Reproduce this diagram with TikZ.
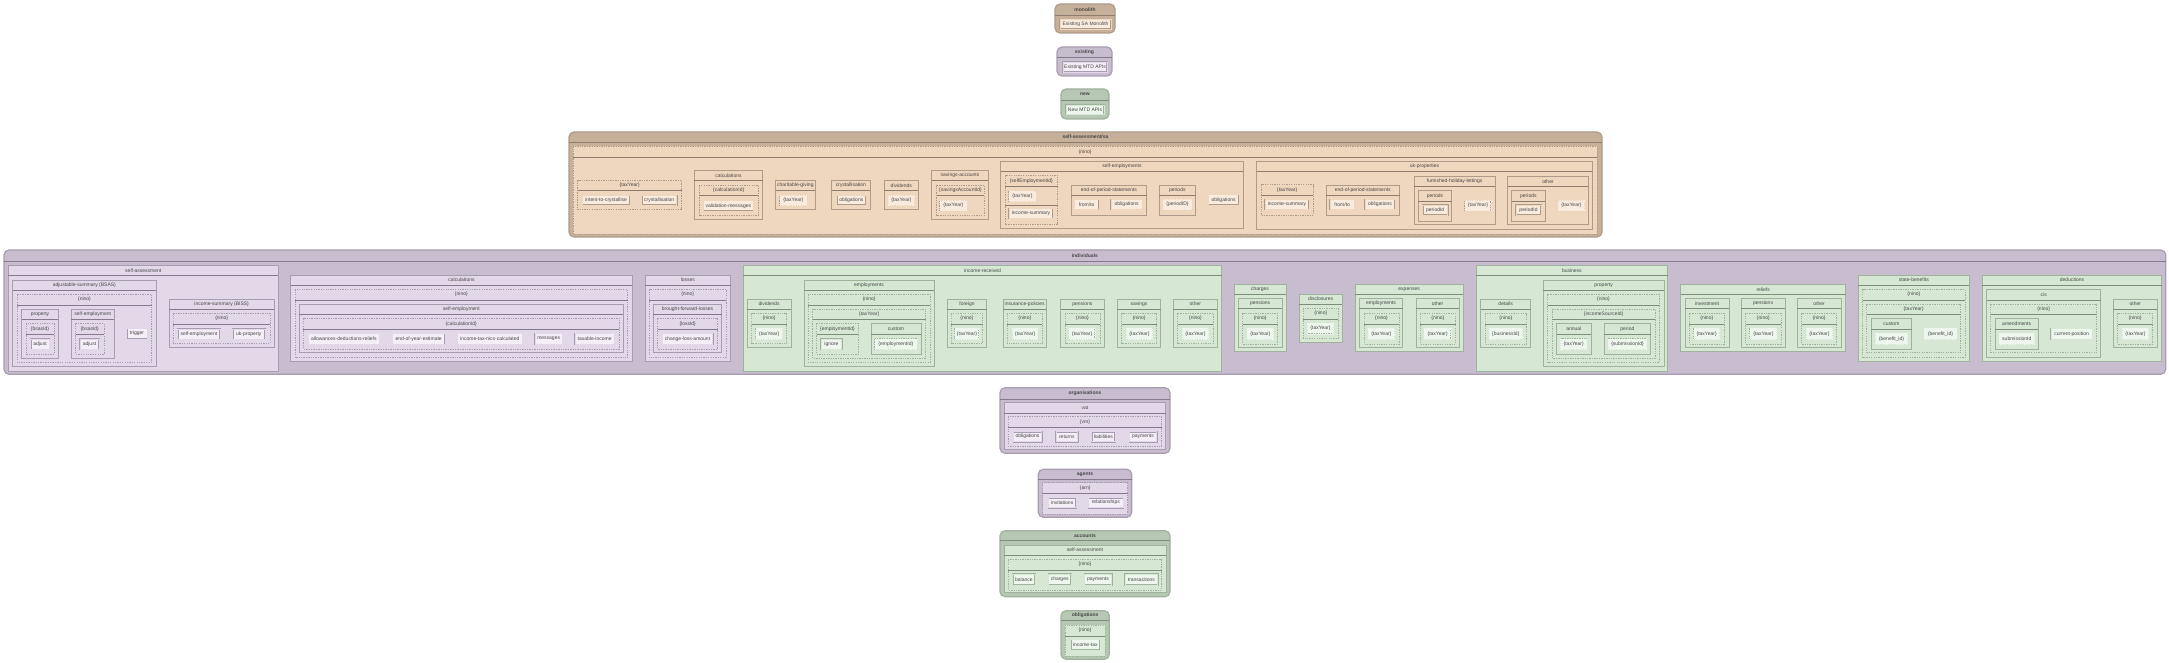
\documentclass[tikz,border=0pt]{standalone}
\usepackage{fontspec}
\setmainfont{Liberation Sans}
\definecolor{tanD}{HTML}{C6B09A}
\definecolor{tanL}{HTML}{EFD6BE}
\definecolor{tanB}{HTML}{AE9B89}
\definecolor{tanS}{HTML}{8E7D6E}
\definecolor{tanF}{HTML}{F9ECDF}
\definecolor{purD}{HTML}{C8BCCF}
\definecolor{purL}{HTML}{E3D8E8}
\definecolor{purB}{HTML}{A89CB0}
\definecolor{purS}{HTML}{86798E}
\definecolor{purF}{HTML}{F4EEF6}
\definecolor{grnD}{HTML}{B6C7B3}
\definecolor{grnL}{HTML}{D6E8D4}
\definecolor{grnB}{HTML}{9FB29C}
\definecolor{grnS}{HTML}{7D8F7B}
\definecolor{grnF}{HTML}{EEF7ED}
\definecolor{txtc}{HTML}{474747}
\newcount\nodecnt
\tikzset{
  txt/.style={inner sep=0pt, font=\fontsize{5}{6}\selectfont, text=txtc},
  ttl/.style={inner sep=0pt, font=\fontsize{5}{6}\selectfont\bfseries, text=txtc},
  dsh/.style={dash pattern=on 1.3pt off 1.1pt}
}
% outer rounded package: x1 y1 x2 y2 sep title colour
\newcommand{\OBox}[7]{%
  \draw[line width=1.2pt, draw=#7B, fill=#7D, rounded corners=5pt] (#1,#2) rectangle (#3,#4);
  \draw[line width=0.8pt, draw=#7S] (#1,#5) -- (#3,#5);
  \global\advance\nodecnt by 1
  \node[ttl] (n\the\nodecnt) at ({(#1+#3)/2},{(#2+#5)/2}) {#6};}
% solid inner package
\newcommand{\CBox}[7]{%
  \draw[line width=0.8pt, draw=#7B, fill=#7L] (#1,#2) rectangle (#3,#4);
  \draw[line width=0.7pt, draw=#7S] (#1,#5) -- (#3,#5);
  \global\advance\nodecnt by 1
  \node[txt] (n\the\nodecnt) at ({(#1+#3)/2},{(#2+#5)/2}) {#6};}
% dashed inner package
\newcommand{\DBox}[7]{%
  \draw[line width=0.7pt, draw=#7B, fill=#7L, dsh] (#1,#2) rectangle (#3,#4);
  \draw[line width=0.6pt, draw=#7S] (#1,#5) -- (#3,#5);
  \global\advance\nodecnt by 1
  \node[txt] (n\the\nodecnt) at ({(#1+#3)/2},{(#2+#5)/2}) {#6};}
% solid leaf
\newcommand{\LeafS}[6]{%
  \draw[line width=0.5pt, draw=#6B, double=#6L, double distance=0.6pt, fill=#6F] (#1,#2) rectangle (#3,#4);
  \global\advance\nodecnt by 1
  \node[txt] (n\the\nodecnt) at ({(#1+#3)/2},{(#2+#4)/2}) {#5};}
% dashed leaf
\newcommand{\LeafD}[6]{%
  \draw[line width=0.45pt, draw=#6B, double=#6F, double distance=0.6pt, fill=#6F, dsh] (#1,#2) rectangle (#3,#4);
  \global\advance\nodecnt by 1
  \node[txt] (n\the\nodecnt) at ({(#1+#3)/2},{(#2+#4)/2}) {#5};}

\begin{document}
\begin{tikzpicture}[x=1pt,y=-1pt]
\fill[white] (0,0) rectangle (2169,663);
\useasboundingbox (0,0) rectangle (2169,663);

% ---------- legend ----------
\OBox{1055}{4}{1115}{33}{15}{monolith}{tan}
\LeafS{1060}{19.7}{1111}{29.3}{Existing SA Monolith}{tan}
\OBox{1057}{47}{1112}{76}{57.3}{existing}{pur}
\LeafS{1063}{62}{1107}{72}{Existing MTD APIs}{pur}
\OBox{1061}{89}{1109}{119}{100}{new}{grn}
\LeafS{1066}{105}{1104}{114.5}{New MTD APIs}{grn}

% ---------- self-assessment/sa ----------
\OBox{569}{132}{1602}{237}{142}{self-assessment/sa}{tan}
\DBox{573.3}{146.3}{1597}{234}{157.3}{\{nino\}}{tan}
\DBox{577.7}{180.3}{681.7}{209.7}{190.3}{\{taxYear\}}{tan}
\LeafS{582.3}{195.7}{630}{205.3}{intent-to-crystallise}{tan}
\LeafS{641.7}{195.7}{676.7}{205.3}{crystallisation}{tan}
\CBox{694.3}{170.7}{762.7}{219.7}{180.3}{calculations}{tan}
\DBox{699}{185.3}{758.3}{215.3}{195.7}{\{calculationId\}}{tan}
\LeafS{703.3}{200.7}{753.3}{211.3}{validation-messages}{tan}
\CBox{775.7}{180.3}{815}{209.7}{190.3}{charitable-giving}{tan}
\LeafD{780}{195.7}{806.7}{205.3}{\{taxYear\}}{tan}
\CBox{831.7}{180.3}{870}{209.7}{190.3}{crystallisation}{tan}
\LeafS{836.7}{195.7}{866}{205.3}{obligations}{tan}
\CBox{884.3}{180.3}{918.3}{209.7}{190.3}{dividends}{tan}
\LeafD{888.3}{195.7}{914.3}{205.3}{\{taxYear\}}{tan}
\CBox{931.7}{170.7}{988.3}{219.7}{180.3}{savings-accounts}{tan}
\DBox{936.7}{185.3}{984.3}{215.3}{195.7}{\{savingsAccountId\}}{tan}
\LeafD{940}{200.7}{966.7}{210.7}{\{taxYear\}}{tan}
\CBox{1000.7}{161.3}{1243.3}{228}{171.3}{self-employments}{tan}
\DBox{1005}{175.3}{1057.7}{224.7}{186.3}{\{selfEmploymentId\}}{tan}
\LeafD{1009}{191.3}{1035.7}{201.3}{\{taxYear\}}{tan}
\draw[line width=0.6pt, draw=tanS] (1005,205.3) -- (1057.7,205.3);
\LeafS{1009}{208.7}{1053}{218.7}{income-summary}{tan}
\CBox{1071}{185.3}{1146.7}{215.3}{195.7}{end-of-period-statements}{tan}
\LeafS{1074.3}{199.7}{1099}{209.7}{from/to}{tan}
\LeafS{1111}{199.7}{1142.3}{209.7}{obligations}{tan}
\CBox{1159}{185.3}{1195.7}{215.3}{195.7}{periods}{tan}
\LeafD{1163.3}{199.7}{1191.7}{209.7}{\{periodID\}}{tan}
\LeafS{1208.3}{194.7}{1239}{205.3}{obligations}{tan}
\CBox{1256.7}{161.3}{1592.3}{229.7}{171.3}{uk-properties}{tan}
\DBox{1261}{184.7}{1313.3}{215.3}{195.7}{\{taxYear\}}{tan}
\LeafS{1265}{199.7}{1309}{209.7}{income-summary}{tan}
\CBox{1326}{185.3}{1399.5}{215.3}{195.7}{end-of-period-statements}{tan}
\LeafS{1330}{199.7}{1354.3}{209.7}{from/to}{tan}
\LeafS{1365}{199.7}{1395}{209.7}{obligations}{tan}
\CBox{1414.3}{176.3}{1495}{224.7}{186.3}{furnished-holiday-lettings}{tan}
\CBox{1418.3}{190.7}{1451.7}{221.3}{201.3}{periods}{tan}
\LeafS{1422.7}{205.3}{1447.7}{215.3}{periodId}{tan}
\LeafD{1465}{200.7}{1491}{210.7}{\{taxYear\}}{tan}
\CBox{1507.7}{176.3}{1588.3}{224.7}{186.3}{other}{tan}
\CBox{1511.7}{190.7}{1545}{221.3}{201.3}{periods}{tan}
\LeafS{1516}{205.3}{1541}{215.3}{periodId}{tan}
\LeafD{1558.3}{200.7}{1584.3}{210.7}{\{taxYear\}}{tan}

% ---------- individuals ----------
\OBox{4}{250}{2165.7}{374.3}{261}{individuals}{pur}
% self-assessment
\CBox{8.3}{265.7}{278.3}{371}{275.7}{self-assessment}{pur}
\CBox{12.7}{280}{156}{366.7}{290}{adjustable-summary (BSAS)}{pur}
\DBox{17.3}{294.3}{151.7}{362.3}{305}{\{nino\}}{pur}
\CBox{21.7}{309}{58.3}{358.3}{319.3}{property}{pur}
\DBox{26}{323.3}{54}{354.3}{334.3}{\{bsasId\}}{pur}
\LeafS{30.7}{339}{49.3}{349.3}{adjust}{pur}
\CBox{71}{309}{114.3}{358.3}{319.3}{self-employment}{pur}
\DBox{75.7}{323.3}{104}{354.3}{334.3}{\{bsasId\}}{pur}
\LeafS{80}{339}{99}{349.3}{adjust}{pur}
\LeafS{126.7}{328.3}{147.3}{339}{trigger}{pur}
\CBox{169.3}{299}{274}{347.7}{309.3}{income-summary (BISS)}{pur}
\DBox{173.3}{313.3}{270}{343.3}{324}{\{nino\}}{pur}
\LeafS{177.7}{329}{220}{339.3}{self-employment}{pur}
\LeafS{232.7}{329}{265}{339.3}{uk-property}{pur}
% calculations
\CBox{290.7}{275}{632.3}{361.7}{285}{calculations}{pur}
\DBox{295}{289.3}{627.7}{357.7}{300}{\{nino\}}{pur}
\CBox{299.3}{304.3}{623.3}{352.7}{314.3}{self-employment}{pur}
\DBox{303.3}{318.3}{619.3}{349}{329.3}{\{calculationId\}}{pur}
\LeafS{308.3}{333.3}{379.3}{344.3}{allowances-deductions-reliefs}{pur}
\LeafS{392.3}{333.3}{445}{344.3}{end-of-year-estimate}{pur}
\LeafS{457.3}{333.3}{522.3}{344.3}{income-tax-nics-calculated}{pur}
\LeafS{535}{333.3}{562.3}{344.3}{messages}{pur}
\LeafS{575}{333.3}{614.3}{344.3}{taxable-income}{pur}
% losses
\CBox{645}{275}{730.7}{361.7}{285}{losses}{pur}
\DBox{649.3}{289.3}{726}{357.7}{300}{\{nino\}}{pur}
\CBox{653.3}{304.3}{721.7}{352.7}{314.3}{brought-forward-losses}{pur}
\DBox{657.7}{318.3}{717.7}{349}{329.3}{\{lossId\}}{pur}
\LeafS{662.3}{333.3}{712.7}{344.3}{change-loss-amount}{pur}
% income-received
\CBox{743.3}{265.7}{1221.7}{371}{275.7}{income-received}{grn}
\CBox{747.3}{299}{791}{347.7}{309.3}{dividends}{grn}
\DBox{751.7}{313.3}{786.7}{343.3}{324}{\{nino\}}{grn}
\LeafD{756}{328.3}{782.3}{339.3}{\{taxYear\}}{grn}
\CBox{804}{280}{934}{366.7}{290}{employments}{grn}
\DBox{808.3}{294.3}{930}{362.3}{305}{\{nino\}}{grn}
\DBox{812.7}{309}{925.7}{358.3}{319.3}{\{taxYear\}}{grn}
\DBox{816.7}{323.3}{858.3}{354.3}{334.3}{\{employmentId\}}{grn}
\LeafS{821}{339}{841.7}{349.3}{ignore}{grn}
\CBox{871}{323.3}{921}{354.3}{334.3}{custom}{grn}
\LeafD{875}{339}{916.7}{349.3}{\{employmentId\}}{grn}
\CBox{947.3}{299}{986.7}{347.7}{309.3}{foreign}{grn}
\DBox{951}{313.3}{982.7}{343.3}{324}{\{nino\}}{grn}
\LeafD{955}{328.3}{979}{339.3}{\{taxYear\}}{grn}
\CBox{1003.3}{299}{1046}{347.7}{309.3}{insurance-policies}{grn}
\DBox{1007.3}{313.3}{1042.3}{343.3}{324}{\{nino\}}{grn}
\LeafD{1012.7}{328.3}{1037.7}{339.3}{\{taxYear\}}{grn}
\CBox{1060.7}{299}{1104}{347.7}{309.3}{pensions}{grn}
\DBox{1065}{313.3}{1100}{343.3}{324}{\{nino\}}{grn}
\LeafD{1069.3}{328.3}{1095}{339.3}{\{taxYear\}}{grn}
\CBox{1117.3}{299}{1160.7}{347.7}{309.3}{savings}{grn}
\DBox{1121.7}{313.3}{1156.7}{343.3}{324}{\{nino\}}{grn}
\LeafD{1126.7}{328.3}{1152.3}{339.3}{\{taxYear\}}{grn}
\CBox{1173.3}{299}{1217.3}{347.7}{309.3}{other}{grn}
\DBox{1177.7}{313.3}{1213.3}{343.3}{324}{\{nino\}}{grn}
\LeafD{1182.7}{328.3}{1208.3}{339.3}{\{taxYear\}}{grn}
% charges
\CBox{1234}{284.3}{1286}{351.7}{294.3}{charges}{grn}
\CBox{1238.3}{298.3}{1282}{347.7}{308.7}{pensions}{grn}
\DBox{1242.7}{313.3}{1277.7}{344}{324}{\{nino\}}{grn}
\LeafD{1247.3}{328.3}{1273.3}{339.3}{\{taxYear\}}{grn}
% disclosures
\CBox{1299}{294}{1342.3}{342.3}{304}{disclosures}{grn}
\DBox{1303.3}{308.3}{1338.3}{338.3}{319}{\{nino\}}{grn}
\LeafD{1307.7}{323.3}{1333.3}{334}{\{taxYear\}}{grn}
% expenses
\CBox{1355}{284.3}{1463.3}{351.7}{294.3}{expenses}{grn}
\CBox{1359.3}{298.3}{1402.7}{347.7}{308.7}{employments}{grn}
\DBox{1364}{313.3}{1399}{344}{324}{\{nino\}}{grn}
\LeafD{1368.3}{328.3}{1394.3}{339.3}{\{taxYear\}}{grn}
\CBox{1416}{298.3}{1459.3}{347.7}{308.7}{other}{grn}
\DBox{1420}{313.3}{1455.7}{344}{324}{\{nino\}}{grn}
\LeafD{1424.3}{328.3}{1451}{339.3}{\{taxYear\}}{grn}
% business
\CBox{1476}{265.7}{1667.7}{371}{275.7}{business}{grn}
\CBox{1480.7}{299}{1530.7}{347.7}{309.3}{details}{grn}
\DBox{1485}{313.3}{1526.7}{344}{324}{\{nino\}}{grn}
\LeafD{1489.3}{328.3}{1522.3}{339.3}{\{businessId\}}{grn}
\CBox{1543.3}{280}{1664}{366.7}{290}{property}{grn}
\DBox{1547.7}{294.3}{1659.3}{362.3}{305}{\{nino\}}{grn}
\DBox{1552.3}{309}{1655}{358.3}{319.3}{\{incomeSourceId\}}{grn}
\CBox{1556.7}{323.3}{1591}{354.3}{334.3}{annual}{grn}
\LeafD{1560.7}{339}{1586.7}{349.3}{\{taxYear\}}{grn}
\CBox{1604}{323.3}{1650.7}{354.3}{334.3}{period}{grn}
\LeafD{1608.3}{339}{1646.7}{349.3}{\{submissionId\}}{grn}
% reliefs
\CBox{1680.7}{284.3}{1845.7}{351.7}{294.3}{reliefs}{grn}
\CBox{1685}{298.3}{1729}{347.7}{308.7}{investment}{grn}
\DBox{1689.3}{313.3}{1724.3}{344}{324}{\{nino\}}{grn}
\LeafD{1694}{328.3}{1719.3}{339.3}{\{taxYear\}}{grn}
\CBox{1741}{298.3}{1785}{347.7}{308.7}{pensions}{grn}
\DBox{1745.7}{313.3}{1781}{344}{324}{\{nino\}}{grn}
\LeafD{1750}{328.3}{1776.7}{339.3}{\{taxYear\}}{grn}
\CBox{1797.3}{298.3}{1841}{347.7}{308.7}{other}{grn}
\DBox{1801.7}{313.3}{1836.7}{344}{324}{\{nino\}}{grn}
\LeafD{1806.7}{328.3}{1832.3}{339.3}{\{taxYear\}}{grn}
% state-benefits
\CBox{1858.3}{275}{1969.3}{361.7}{285}{state-benefits}{grn}
\DBox{1862.7}{289.3}{1965}{357.7}{300}{\{nino\}}{grn}
\DBox{1866.7}{304.3}{1960.7}{352.7}{314.3}{\{taxYear\}}{grn}
\CBox{1871}{318.3}{1911.7}{349}{329.3}{custom}{grn}
\LeafD{1875.7}{333.3}{1907.3}{344.3}{\{benefit\_id\}}{grn}
\LeafD{1924.3}{328.3}{1956.7}{339.3}{\{benefit\_id\}}{grn}
% deductions
\CBox{1982.3}{275}{2161.7}{361.7}{285}{deductions}{grn}
\CBox{1986.7}{289.3}{2100.7}{357.7}{300}{cis}{grn}
\DBox{1990.7}{304.3}{2096.7}{352.7}{314.3}{\{nino\}}{grn}
\CBox{1995}{318.3}{2038.3}{349}{329.3}{amendments}{grn}
\LeafD{1999.3}{333.3}{2034.3}{344.3}{submissionId}{grn}
\LeafS{2051}{328.3}{2092.3}{339.3}{current-position}{grn}
\CBox{2113.3}{299}{2157.3}{347.7}{309.3}{other}{grn}
\DBox{2117.7}{313.3}{2152.7}{344}{324}{\{nino\}}{grn}
\LeafD{2122.7}{328.3}{2148.3}{339.3}{\{taxYear\}}{grn}

% ---------- organisations ----------
\OBox{1000}{387.7}{1170}{453.3}{399}{organisations}{pur}
\CBox{1004.3}{402.3}{1165.7}{449.3}{413.3}{vat}{pur}
\DBox{1008.3}{416.7}{1161.7}{446}{427.3}{\{vrn\}}{pur}
\LeafS{1013.3}{431.7}{1041.7}{441.7}{obligations}{pur}
\LeafS{1056}{431.7}{1077.7}{441.7}{returns}{pur}
\LeafS{1091.7}{431.7}{1115}{441.7}{liabilities}{pur}
\LeafS{1129.3}{431.7}{1156.7}{441.7}{payments}{pur}

% ---------- agents ----------
\OBox{1038.3}{469.3}{1131.7}{517.3}{479.3}{agents}{pur}
\DBox{1042.7}{482.7}{1127.7}{514}{493.3}{\{arn\}}{pur}
\LeafS{1048.3}{497.7}{1076}{507.7}{invitations}{pur}
\LeafS{1088.3}{497.7}{1123.3}{507.7}{relationships}{pur}

% ---------- accounts ----------
\OBox{1000}{530.7}{1170}{596.7}{540.7}{accounts}{grn}
\CBox{1004}{545}{1166}{592.7}{555}{self-assessment}{grn}
\DBox{1008.3}{559.3}{1161.7}{590}{570}{\{nino\}}{grn}
\LeafS{1012.7}{574}{1035}{585}{balance}{grn}
\LeafS{1048.3}{574}{1071}{585}{charges}{grn}
\LeafS{1084.3}{574}{1111.7}{585}{payments}{grn}
\LeafS{1125}{574}{1157.7}{585}{transactions}{grn}

% ---------- obligations ----------
\OBox{1061}{610.7}{1109.3}{659.3}{620.7}{obligations}{grn}
\DBox{1065}{625}{1105}{656}{636}{\{nino\}}{grn}
\LeafS{1070.7}{639.3}{1100}{650}{income-tax}{grn}
\end{tikzpicture}
\end{document}
